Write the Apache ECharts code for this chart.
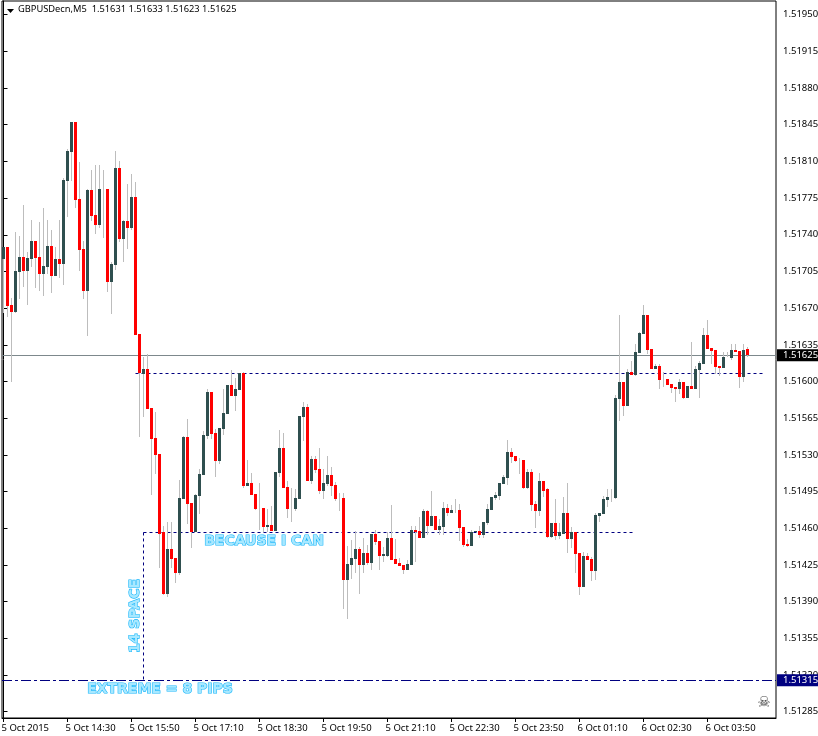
<!DOCTYPE html>
<html><head><meta charset="utf-8">
<style>html,body{margin:0;padding:0;background:#fff}#c{width:818px;height:736px}</style>
<script src="https://cdn.jsdelivr.net/npm/echarts@6/dist/echarts.min.js"></script>
</head><body><div id="c"></div>
<script>
const opens = [1.51717,1.51728,1.51673,1.51666,1.51704,1.51719,1.51705,1.51717,1.51734,1.51719,1.51703,1.51709,1.51729,1.51701,1.51717,1.51712,1.51791,1.51819,1.51848,1.51774,1.51726,1.51686,1.51783,1.51759,1.51749,1.51784,1.51784,1.51695,1.51711,1.51804,1.51736,1.51753,1.51746,1.51776,1.51645,1.51607,1.51612,1.51575,1.51546,1.51531,1.51456,1.51397,1.51440,1.51432,1.51417,1.51488,1.51547,1.51484,1.51456,1.51491,1.51511,1.51548,1.51590,1.51551,1.51524,1.51555,1.51569,1.51597,1.51586,1.51592,1.51608,1.51500,1.51503,1.51493,1.51478,1.51479,1.51461,1.51463,1.51457,1.51513,1.51537,1.51499,1.51478,1.51478,1.51488,1.51566,1.51576,1.51505,1.51526,1.51517,1.51496,1.51502,1.51511,1.51501,1.51488,1.51489,1.51411,1.51425,1.51431,1.51440,1.51425,1.51436,1.51427,1.51455,1.51448,1.51434,1.51434,1.51451,1.51431,1.51427,1.51425,1.51420,1.51425,1.51458,1.51457,1.51451,1.51476,1.51462,1.51472,1.51458,1.51461,1.51479,1.51475,1.51477,1.51477,1.51461,1.51445,1.51443,1.51456,1.51457,1.51454,1.51465,1.51477,1.51489,1.51491,1.51502,1.51508,1.51533,1.51529,1.51525,1.51525,1.51498,1.51514,1.51483,1.51476,1.51505,1.51497,1.51452,1.51465,1.51453,1.51455,1.51475,1.51450,1.51456,1.51436,1.51404,1.51434,1.51431,1.51419,1.51472,1.51474,1.51487,1.51490,1.51489,1.51583,1.51600,1.51577,1.51609,1.51606,1.51627,1.51645,1.51663,1.51631,1.51612,1.51615,1.51601,1.51602,1.51598,1.51595,1.51593,1.51600,1.51584,1.51596,1.51593,1.51611,1.51617,1.51644,1.51632,1.51630,1.51615,1.51613,1.51624,1.51622,1.51630,1.51629,1.51604,1.51631];
const highs = [1.51728,1.51728,1.51680,1.51743,1.51739,1.51768,1.51724,1.51754,1.51734,1.51752,1.51766,1.51754,1.51745,1.51728,1.51754,1.51794,1.51822,1.51848,1.51848,1.51809,1.51734,1.51784,1.51802,1.51807,1.51807,1.51802,1.51784,1.51714,1.51820,1.51810,1.51754,1.51788,1.51798,1.51790,1.51645,1.51623,1.51626,1.51575,1.51571,1.51531,1.51462,1.51466,1.51466,1.51432,1.51506,1.51548,1.51564,1.51484,1.51493,1.51517,1.51553,1.51593,1.51590,1.51555,1.51556,1.51593,1.51597,1.51611,1.51603,1.51608,1.51609,1.51525,1.51513,1.51493,1.51503,1.51479,1.51478,1.51481,1.51514,1.51554,1.51551,1.51505,1.51498,1.51497,1.51567,1.51580,1.51579,1.51529,1.51529,1.51537,1.51517,1.51529,1.51518,1.51504,1.51494,1.51494,1.51443,1.51449,1.51457,1.51442,1.51451,1.51444,1.51455,1.51458,1.51448,1.51442,1.51456,1.51482,1.51450,1.51432,1.51425,1.51430,1.51462,1.51462,1.51471,1.51478,1.51477,1.51496,1.51472,1.51469,1.51485,1.51483,1.51482,1.51488,1.51483,1.51461,1.51450,1.51458,1.51457,1.51462,1.51466,1.51483,1.51490,1.51495,1.51503,1.51511,1.51544,1.51537,1.51529,1.51527,1.51525,1.51517,1.51517,1.51486,1.51513,1.51505,1.51498,1.51465,1.51488,1.51465,1.51490,1.51503,1.51461,1.51456,1.51436,1.51437,1.51436,1.51433,1.51475,1.51475,1.51491,1.51497,1.51497,1.51587,1.51663,1.51600,1.51612,1.51620,1.51636,1.51647,1.51673,1.51663,1.51631,1.51617,1.51617,1.51609,1.51602,1.51598,1.51595,1.51602,1.51600,1.51596,1.51638,1.51615,1.51620,1.51651,1.51659,1.51632,1.51630,1.51615,1.51628,1.51628,1.51636,1.51636,1.51629,1.51636,1.51633];
const lows = [1.51665,1.51662,1.51600,1.51665,1.51679,1.51690,1.51673,1.51709,1.51689,1.51686,1.51682,1.51703,1.51684,1.51701,1.51699,1.51692,1.51757,1.51791,1.51766,1.51705,1.51679,1.51643,1.51753,1.51741,1.51746,1.51737,1.51685,1.51664,1.51706,1.51733,1.51714,1.51726,1.51745,1.51644,1.51547,1.51566,1.51574,1.51492,1.51512,1.51422,1.51396,1.51394,1.51422,1.51408,1.51415,1.51488,1.51464,1.51441,1.51456,1.51474,1.51511,1.51545,1.51545,1.51509,1.51521,1.51549,1.51569,1.51586,1.51572,1.51592,1.51498,1.51500,1.51492,1.51477,1.51458,1.51456,1.51456,1.51457,1.51457,1.51509,1.51498,1.51470,1.51466,1.51476,1.51488,1.51543,1.51505,1.51502,1.51513,1.51493,1.51488,1.51500,1.51491,1.51486,1.51476,1.51383,1.51373,1.51412,1.51417,1.51397,1.51417,1.51425,1.51420,1.51444,1.51420,1.51428,1.51433,1.51430,1.51426,1.51424,1.51416,1.51420,1.51425,1.51428,1.51451,1.51451,1.51454,1.51462,1.51458,1.51454,1.51454,1.51472,1.51475,1.51475,1.51448,1.51442,1.51442,1.51443,1.51456,1.51451,1.51451,1.51463,1.51477,1.51487,1.51487,1.51502,1.51501,1.51522,1.51523,1.51512,1.51497,1.51497,1.51476,1.51460,1.51472,1.51490,1.51451,1.51451,1.51449,1.51450,1.51455,1.51436,1.51441,1.51417,1.51396,1.51404,1.51430,1.51410,1.51411,1.51466,1.51474,1.51480,1.51485,1.51488,1.51562,1.51567,1.51577,1.51606,1.51605,1.51627,1.51645,1.51626,1.51612,1.51612,1.51593,1.51595,1.51597,1.51589,1.51580,1.51588,1.51583,1.51584,1.51593,1.51593,1.51584,1.51617,1.51631,1.51617,1.51607,1.51605,1.51613,1.51623,1.51621,1.51628,1.51594,1.51600,1.51623];
const closes = [1.51728,1.51672,1.51666,1.51705,1.51719,1.51705,1.51718,1.51734,1.51718,1.51703,1.51710,1.51729,1.51701,1.51717,1.51712,1.51792,1.51820,1.51848,1.51773,1.51725,1.51686,1.51783,1.51758,1.51749,1.51784,1.51784,1.51695,1.51712,1.51804,1.51736,1.51753,1.51746,1.51776,1.51644,1.51608,1.51612,1.51574,1.51545,1.51530,1.51455,1.51397,1.51440,1.51431,1.51417,1.51489,1.51547,1.51483,1.51456,1.51492,1.51512,1.51549,1.51590,1.51550,1.51524,1.51556,1.51570,1.51597,1.51586,1.51593,1.51608,1.51500,1.51503,1.51492,1.51478,1.51478,1.51461,1.51463,1.51457,1.51514,1.51537,1.51498,1.51478,1.51478,1.51489,1.51567,1.51576,1.51505,1.51526,1.51516,1.51496,1.51503,1.51511,1.51500,1.51488,1.51488,1.51411,1.51426,1.51432,1.51440,1.51425,1.51436,1.51427,1.51455,1.51447,1.51434,1.51435,1.51451,1.51430,1.51426,1.51424,1.51420,1.51426,1.51458,1.51456,1.51451,1.51476,1.51462,1.51472,1.51458,1.51462,1.51479,1.51475,1.51477,1.51477,1.51460,1.51444,1.51443,1.51456,1.51457,1.51454,1.51466,1.51478,1.51490,1.51492,1.51503,1.51509,1.51533,1.51528,1.51524,1.51525,1.51498,1.51514,1.51482,1.51476,1.51505,1.51496,1.51452,1.51465,1.51453,1.51456,1.51475,1.51450,1.51456,1.51435,1.51404,1.51434,1.51430,1.51419,1.51473,1.51475,1.51488,1.51490,1.51490,1.51584,1.51600,1.51577,1.51609,1.51606,1.51628,1.51646,1.51663,1.51630,1.51612,1.51615,1.51601,1.51601,1.51597,1.51594,1.51593,1.51600,1.51584,1.51596,1.51593,1.51612,1.51618,1.51644,1.51631,1.51629,1.51614,1.51613,1.51623,1.51624,1.51630,1.51628,1.51604,1.51630,1.51625];

const priceTicks = [1.51285,1.51320,1.51355,1.51390,1.51425,1.51460,1.51495,1.51530,1.51565,1.51600,1.51635,1.51670,1.51705,1.51740,1.51775,1.51810,1.51845,1.51880,1.51915,1.51950];
const timeTickIndex = [0,16,32,48,64,80,96,112,128,144,160,176];
const timeTickLabels = ["5 Oct 2015","5 Oct 14:30","5 Oct 15:50","5 Oct 17:10","5 Oct 18:30","5 Oct 19:50","5 Oct 21:10","5 Oct 22:30","5 Oct 23:50","6 Oct 01:10","6 Oct 02:30","6 Oct 03:50"];
const currentPrice = 1.51625;
const extremePrice = 1.51315;
const upperLevel = 1.51608;
const lowerLevel = 1.51456;
const upperLevelSpan = [33,190];
const lowerLevelSpan = [35,158];
const headerText = "GBPUSDecn,M5  1.51631 1.51633 1.51623 1.51625";

const candles = opens.map((o,i)=>[i,o,highs[i],lows[i],closes[i]]);
const UP = '#2f4f4f', DOWN = '#ff0000', WICK = '#bdbdbd', NAVY = '#000080';
const uiFont = '"Noto Sans", sans-serif';
const labelSize = 9.5;

function renderCandle(params, api){
  const i = api.value(0), o = api.value(1), h = api.value(2), l = api.value(3), c = api.value(4);
  const cx = api.coord([i,o])[0];
  const yO = api.coord([i,o])[1], yC = api.coord([i,c])[1], yH = api.coord([i,h])[1], yL = api.coord([i,l])[1];
  const top = Math.round(Math.min(yO,yC)), bot = Math.round(Math.max(yO,yC));
  const fill = c >= o ? UP : DOWN;
  const kids = [{type:'rect',shape:{x:cx-0.5,y:Math.round(yH),width:1,height:Math.max(Math.round(yL)-Math.round(yH),0)},style:{fill:WICK}}];
  if (bot > top) kids.push({type:'rect',shape:{x:cx-1.5,y:top,width:3,height:bot-top},style:{fill}});
  return {type:'group',children:kids};
}

function annotation(text,x,y,extra){
  return Object.assign({type:'text',x,y,silent:true,z:20,style:{text,fontFamily:'"DejaVu Sans"',fontWeight:'bold',fontSize:14,fill:'#a8e8ff',stroke:'#16b6fb',lineWidth:1.2,textAlign:'center',textVerticalAlign:'middle'}},extra||{});
}

const chart = echarts.init(document.getElementById('c'),null,{renderer:'canvas'});
chart.setOption({
  animation:false,
  backgroundColor:'#fff',
  title:{text:headerText,left:18,top:5,padding:0,textStyle:{fontFamily:uiFont,fontSize:9.3,fontWeight:'normal',color:'#000'}},
  grid:{left:2,right:42,top:1,bottom:18,show:true,borderColor:'#000',borderWidth:1,backgroundColor:'#fff',containLabel:false,outerBoundsMode:'none'},
  xAxis:{type:'value',min:-0.375,max:193.125,splitLine:{show:false},
    axisLine:{show:true,lineStyle:{color:'#000'}},
    axisTick:{show:true,length:4,customValues:timeTickIndex,lineStyle:{color:'#000'}},
    axisLabel:{customValues:timeTickIndex,margin:5,align:'left',padding:[0,0,0,-2],color:'#000',fontFamily:uiFont,fontSize:labelSize,
      formatter:v=>timeTickLabels[timeTickIndex.indexOf(v)]}},
  yAxis:{type:'value',position:'right',min:1.51279,max:1.51963,splitLine:{show:false},
    axisLine:{show:true,lineStyle:{color:'#000'}},
    axisTick:{show:true,length:4,customValues:priceTicks,lineStyle:{color:'#000'}},
    axisLabel:{customValues:priceTicks.concat([currentPrice,extremePrice]),margin:1,align:'left',color:'#000',fontFamily:uiFont,fontSize:labelSize,
      formatter:v=>{
        const s=v.toFixed(5);
        if(Math.abs(v-currentPrice)<1e-7) return '{cur|'+s+'}';
        if(Math.abs(v-extremePrice)<1e-7) return '{ext|'+s+'}';
        return '{reg|'+s+'}';
      },
      rich:{
        reg:{padding:[0,0,0,6],color:'#000',fontFamily:uiFont,fontSize:labelSize},
        cur:{padding:[0,0,0,6],width:35,height:12,lineHeight:12,backgroundColor:'#000',color:'#fff',fontFamily:uiFont,fontSize:labelSize},
        ext:{padding:[0,0,0,6],width:35,height:12,lineHeight:12,backgroundColor:NAVY,color:'#fff',fontFamily:uiFont,fontSize:labelSize}
      }}},
  series:[
    {type:'line',data:[],z:1,silent:true,
     markLine:{silent:true,animation:false,symbol:'none',label:{show:false},data:[
       [{coord:[-0.375,currentPrice],lineStyle:{color:'#7d888c',width:1,type:'solid'}},{coord:[193.125,currentPrice]}],
       [{coord:[-0.375,extremePrice],lineStyle:{color:NAVY,width:1,type:[10,3,3,3]}},{coord:[193.125,extremePrice]}],
       [{coord:[upperLevelSpan[0],upperLevel],lineStyle:{color:NAVY,width:1,type:[3,3]}},{coord:[upperLevelSpan[1],upperLevel]}],
       [{coord:[lowerLevelSpan[0],lowerLevel],lineStyle:{color:NAVY,width:1,type:[3,3]}},{coord:[lowerLevelSpan[1],lowerLevel]}],
       [{coord:[lowerLevelSpan[0],lowerLevel],lineStyle:{color:NAVY,width:1,type:[3,3]}},{coord:[lowerLevelSpan[0],extremePrice]}]
     ]}},
    {type:'custom',data:candles,z:5,clip:true,silent:true,encode:{x:0,y:[1,2,3,4]},renderItem:renderCandle}
  ],
  graphic:[
    {type:'polygon',silent:true,shape:{points:[[7,9],[14,9],[10.5,13]]},style:{fill:'#000'}},
    annotation('BECAUSE I CAN',264,541),
    annotation('14 SPACE',135,616,{rotation:Math.PI/2}),
    annotation('EXTREME = 8 PIPS',160,689),
    {type:'text',x:764,y:703,silent:true,style:{text:'\u2620',fontFamily:'"DejaVu Sans"',fontSize:15,fill:'#444',textAlign:'center',textVerticalAlign:'middle'}}
  ]
});
</script></body></html>
